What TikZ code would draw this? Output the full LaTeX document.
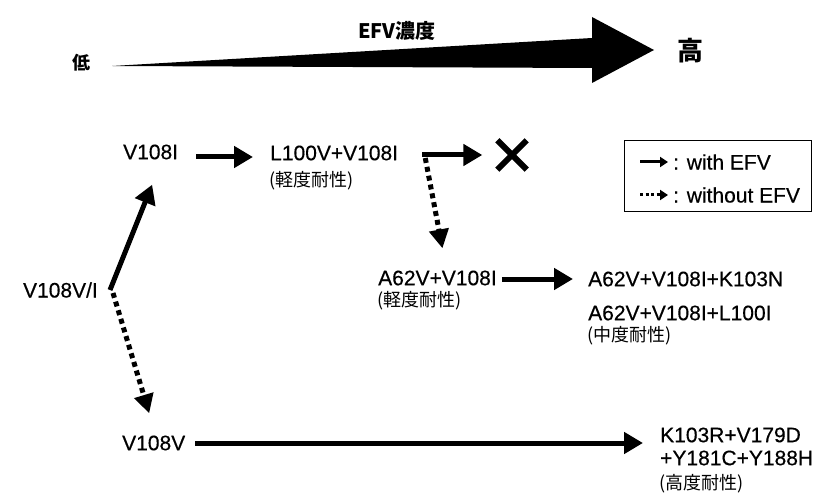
\documentclass[tikz,border=0pt]{standalone}
\usepackage{fontspec}
\setmainfont{Liberation Sans}[FakeBold=0.4]
\newfontfamily\jp{Noto Sans CJK JP}
\usetikzlibrary{arrows.meta}
\begin{document}
\begin{tikzpicture}[x=1pt,y=-1pt,
  lbl/.style={anchor=west,inner sep=0pt,font=\fontsize{21}{24}\selectfont},
  jlbl/.style={anchor=west,inner sep=0pt,font=\jp\fontsize{18}{20}\selectfont},
  witharrow/.style={line width=5pt,-{Triangle[width=21pt,length=19pt]}},
  woarrow/.style={line width=5pt,dash pattern=on 5pt off 4pt,-{Triangle[width=19pt,length=19pt]}},
  legwith/.style={line width=3pt,-{Triangle[width=10pt,length=8pt]}},
  legwo/.style={line width=3pt,dash pattern=on 3pt off 2.5pt,-{Triangle[width=10pt,length=8pt]}},
]
\useasboundingbox (0,0) rectangle (819,497);
\fill[white] (0,0) rectangle (819,497);

% concentration arrow
\node[inner sep=0pt,font=\jp\bfseries\fontsize{18}{20}\selectfont] (low) at (81,63) {低};
\node[inner sep=0pt,font=\jp\bfseries\fontsize{26}{28}\selectfont] (high) at (690,51) {高};
\node[inner sep=0pt,font=\jp\bfseries\fontsize{20}{22}\selectfont] (title) at (397,31) {EFV濃度};
\fill[black] (112,66) -- (592,38) -- (592,17) -- (654,50) -- (592,83) -- (592,68) -- cycle;

% labels
\node[lbl] (v108i) at (123,152) {V108I};
\node[lbl] (l100v) at (270,153) {L100V+V108I};
\node[jlbl] (l100vnote) at (269,181) {(軽度耐性)};
\node[lbl] (a62v) at (378,278) {A62V+V108I};
\node[jlbl] (a62vnote) at (377,301) {(軽度耐性)};
\node[lbl] (k103n) at (588,279) {A62V+V108I+K103N};
\node[lbl] (l100i) at (588,313) {A62V+V108I+L100I};
\node[jlbl] (midnote) at (587,336) {(中度耐性)};
\node[lbl,anchor=east] (vi) at (98,290) {V108V/I};
\node[lbl] (v108v) at (122,443) {V108V};
\node[lbl] (k103r) at (660,435) {K103R+V179D};
\node[lbl] (y181c) at (660,458) {+Y181C+Y188H};
\node[jlbl] (highnote) at (659,484) {(高度耐性)};
\node[inner sep=0pt,minimum size=29pt] (xmark) at (512,155) {};
\draw[line width=6pt] (xmark.north west) -- (xmark.south east)
                      (xmark.south west) -- (xmark.north east);

% connectors
\coordinate (vio) at ([xshift=12pt]vi.east);
\coordinate (split) at ([xshift=24pt,yshift=-2pt]l100v.east);
\draw[witharrow] ([xshift=18pt,yshift=-5pt]v108i.east) -- ([xshift=-17pt,yshift=-4pt]l100v.west);
\draw[witharrow] (split) -- ([xshift=-15pt]xmark.west);
\draw[woarrow] ([xshift=3pt,yshift=-3pt]split) -- ([xshift=5pt,yshift=22pt]a62v.north);
\draw[witharrow] (vio) -- ([xshift=1.5pt,yshift=-25pt]v108i.south);
\draw[woarrow] ([xshift=3pt,yshift=-3pt]vio) -- ([xshift=-4.5pt,yshift=22pt]v108v.north);
\draw[witharrow] ([xshift=10pt]v108v.east) -- ([xshift=-17pt,yshift=-8pt]k103r.west);
\draw[witharrow] ([xshift=5pt,yshift=-1pt]a62v.east) -- ([xshift=-15pt]k103n.west);

% legend
\node[draw,line width=1pt,minimum width=187pt,minimum height=71pt,inner sep=0pt] (legend) at (717.5,176.5) {};
\node[lbl] (leg1) at (673,162) {: with EFV};
\node[lbl] (leg2) at (673,195) {: without EFV};
\draw[legwith] ([xshift=-33pt]leg1.west) -- ([xshift=-5pt]leg1.west);
\draw[legwo] ([xshift=-33pt]leg2.west) -- ([xshift=-5pt]leg2.west);
\end{tikzpicture}
\end{document}
